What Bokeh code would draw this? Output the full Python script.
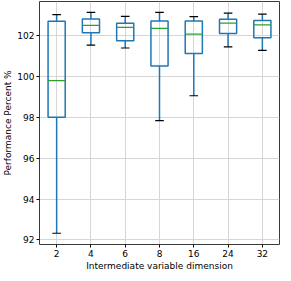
from bokeh.plotting import figure
from bokeh.models import FixedTicker, Range1d
from bokeh.embed import file_html
from bokeh.resources import INLINE

categories = ["2", "4", "6", "8", "16", "24", "32"]
whisker_low = [92.33, 101.51, 101.37, 97.83, 99.04, 101.43, 101.25]
q1 = [97.99, 102.11, 101.72, 100.49, 101.10, 102.08, 101.87]
median = [99.78, 102.47, 102.38, 102.33, 102.05, 102.58, 102.50]
q3 = [102.67, 102.78, 102.58, 102.69, 102.69, 102.77, 102.71]
whisker_high = [103.00, 103.11, 102.91, 103.11, 102.90, 103.07, 103.02]
y_ticks = [92, 94, 96, 98, 100, 102]

xs = list(range(1, len(categories) + 1))
box_w = 0.5
cap_w = 0.25

p = figure(width=283, height=273, output_backend="svg", toolbar_location=None,
           x_range=Range1d(0.5, 7.5), y_range=Range1d(91.78, 103.64),
           min_border_left=2, min_border_right=4, min_border_top=1, min_border_bottom=1)
p.background_fill_color = "white"
p.border_fill_color = "white"
p.outline_line_color = "#3a3a3a"
p.outline_line_width = 1

for g in (p.xgrid, p.ygrid):
    g.grid_line_color = "#d6d6d6"
    g.grid_line_width = 1

# whiskers
p.segment(x0=xs, y0=q3, x1=xs, y1=whisker_high, line_color="#1f77b4", line_width=1.5)
p.segment(x0=xs, y0=whisker_low, x1=xs, y1=q1, line_color="#1f77b4", line_width=1.5)
# caps
p.segment(x0=[x - cap_w / 2 for x in xs], y0=whisker_high,
          x1=[x + cap_w / 2 for x in xs], y1=whisker_high, line_color="black", line_width=1.2)
p.segment(x0=[x - cap_w / 2 for x in xs], y0=whisker_low,
          x1=[x + cap_w / 2 for x in xs], y1=whisker_low, line_color="black", line_width=1.2)
# boxes
p.quad(left=[x - box_w / 2 for x in xs], right=[x + box_w / 2 for x in xs],
       bottom=q1, top=q3, fill_color=None, line_color="#1f77b4", line_width=1.5)
# medians
p.segment(x0=[x - box_w / 2 for x in xs], y0=median,
          x1=[x + box_w / 2 for x in xs], y1=median, line_color="#2ca02c", line_width=1.2)

p.xaxis.ticker = FixedTicker(ticks=xs)
p.xaxis.major_label_overrides = {x: c for x, c in zip(xs, categories)}
p.yaxis.ticker = FixedTicker(ticks=y_ticks)

p.xaxis.axis_label = "Intermediate variable dimension"
p.yaxis.axis_label = "Performance Percent %"

for ax in (p.xaxis[0], p.yaxis[0]):
    ax.axis_line_color = None
    ax.major_tick_line_color = "black"
    ax.major_tick_out = 3
    ax.major_tick_in = 0
    ax.minor_tick_line_color = None
    ax.major_label_text_font = "DejaVu Sans"
    ax.major_label_text_font_size = "9px"
    ax.major_label_text_color = "black"
    ax.axis_label_text_font = "DejaVu Sans"
    ax.axis_label_text_font_size = "9px"
    ax.axis_label_text_font_style = "normal"
    ax.axis_label_text_color = "black"
    ax.axis_label_standoff = 1
    ax.major_label_standoff = 2

open("out.html", "w").write(file_html(p, INLINE))
